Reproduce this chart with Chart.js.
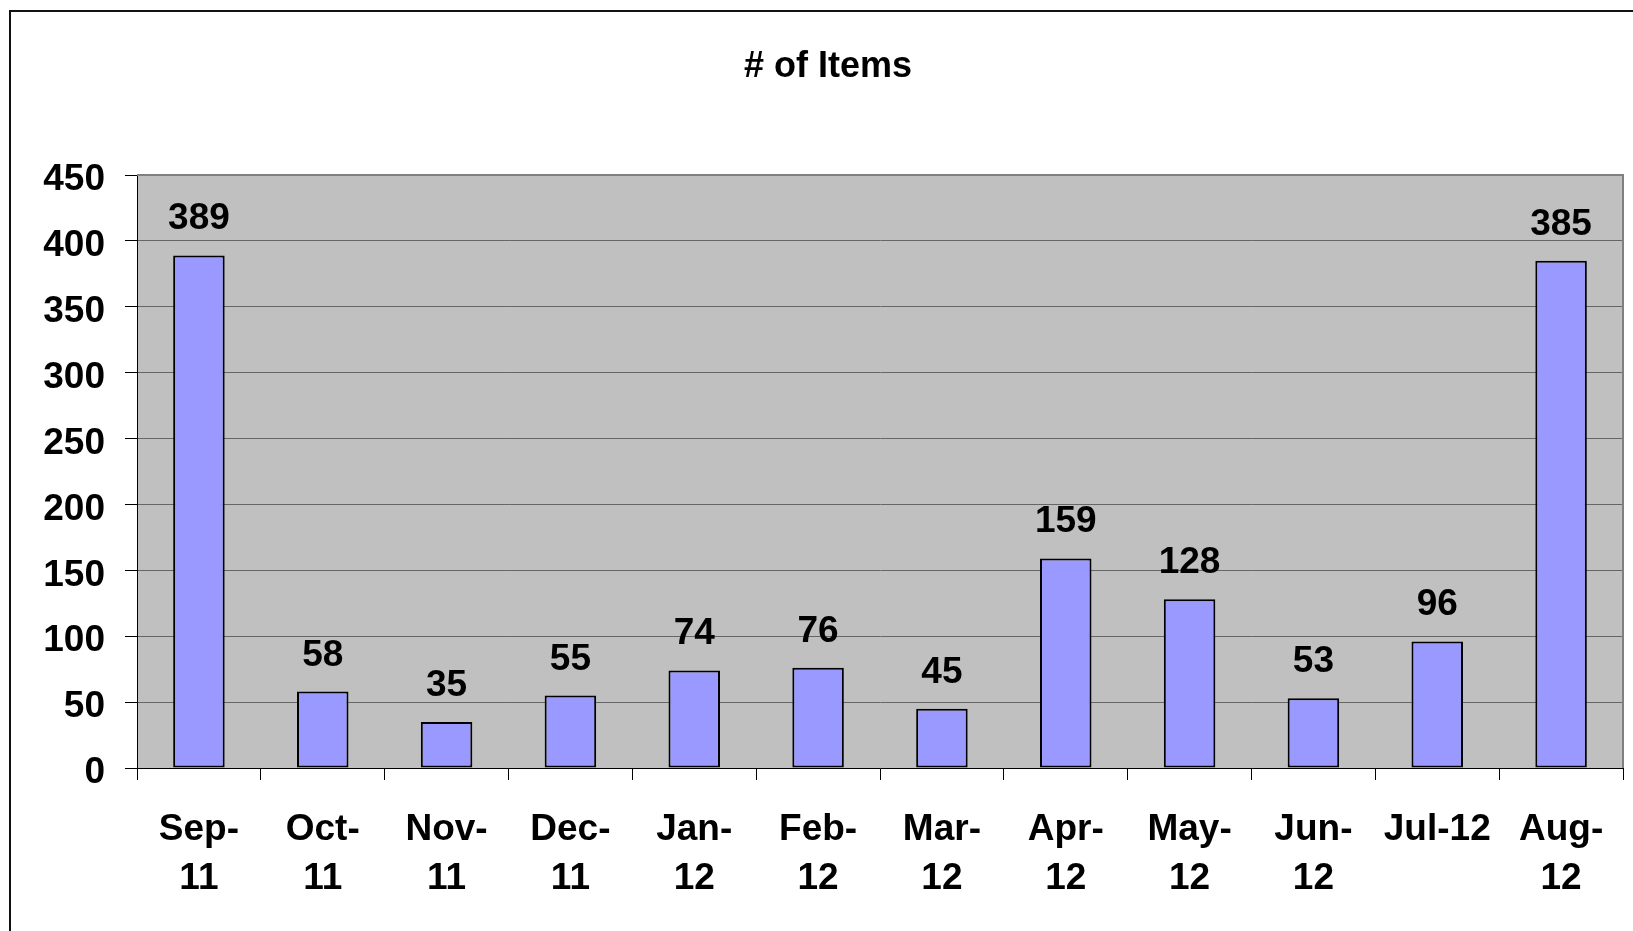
<!DOCTYPE html>
<html>
<head>
<meta charset="utf-8">
<title># of Items</title>
<script src="https://cdn.jsdelivr.net/npm/chart.js@4/dist/chart.umd.min.js"></script>
<style>
  html, body { margin: 0; padding: 0; background: #fff; overflow: hidden; }
  canvas { display: block; }
</style>
</head>
<body>
<canvas id="grafico" width="1633" height="931"></canvas>
<script>
// dados
const meses = ['Sep-11', 'Oct-11', 'Nov-11', 'Dec-11', 'Jan-12', 'Feb-12',
  'Mar-12', 'Apr-12', 'May-12', 'Jun-12', 'Jul-12', 'Aug-12'];
const rotulos = [['Sep-', '11'], ['Oct-', '11'], ['Nov-', '11'], ['Dec-', '11'],
  ['Jan-', '12'], ['Feb-', '12'], ['Mar-', '12'], ['Apr-', '12'], ['May-', '12'],
  ['Jun-', '12'], 'Jul-12', ['Aug-', '12']];
const itens = [389, 58, 35, 55, 74, 76, 45, 159, 128, 53, 96, 385];
const marcasY = [0, 50, 100, 150, 200, 250, 300, 350, 400, 450];
const titulo = '# of Items';

const fonte = "'Liberation Sans', Arial, sans-serif";

// fundo cinza, moldura e título
const moldura = {
  id: 'moldura',
  beforeDraw(chart) {
    const { ctx, chartArea: a } = chart;
    ctx.save();
    ctx.fillStyle = '#fff';
    ctx.fillRect(0, 0, chart.width, chart.height);
    ctx.fillStyle = '#c0c0c0';
    ctx.fillRect(a.left, a.top, a.right - a.left, a.bottom - a.top);
    ctx.strokeStyle = '#111';
    ctx.lineWidth = 2;
    ctx.strokeRect(10, 11, 1650, 960);
    ctx.fillStyle = '#000';
    ctx.font = 'bold 36px ' + fonte;
    ctx.textAlign = 'center';
    ctx.textBaseline = 'middle';
    ctx.fillText(titulo, 828, 67);
    ctx.restore();
  },
  afterDraw(chart) {
    const { ctx, chartArea: a } = chart;
    const y = chart.scales.y;
    ctx.save();
    ctx.strokeStyle = '#808080';
    ctx.lineWidth = 2;
    ctx.beginPath();
    ctx.moveTo(a.left, a.top);
    ctx.lineTo(a.right, a.top);
    ctx.lineTo(a.right, a.bottom);
    ctx.stroke();
    // rótulos do eixo y, um pouco abaixo da marca como no original
    ctx.fillStyle = '#000';
    ctx.font = 'bold 37px ' + fonte;
    ctx.textAlign = 'right';
    ctx.textBaseline = 'middle';
    marcasY.forEach(v => {
      ctx.fillText(String(v), a.left - 32, y.getPixelForValue(v) + 5);
    });
    ctx.restore();
  }
};

// valores acima das barras
const valores = {
  id: 'valores',
  afterDatasetsDraw(chart) {
    const { ctx } = chart;
    const meta = chart.getDatasetMeta(0);
    ctx.save();
    ctx.fillStyle = '#000';
    ctx.font = 'bold 37px ' + fonte;
    ctx.textAlign = 'center';
    ctx.textBaseline = 'alphabetic';
    meta.data.forEach((bar, i) => {
      ctx.fillText(String(itens[i]), bar.x, bar.y - 26);
    });
    ctx.restore();
  }
};

new Chart(document.getElementById('grafico'), {
  type: 'bar',
  data: {
    labels: meses,
    datasets: [{
      label: titulo,
      data: itens,
      backgroundColor: '#9999ff',
      borderColor: '#000',
      borderWidth: 2,
      borderSkipped: false,
      categoryPercentage: 0.8,
      barPercentage: 0.52
    }]
  },
  options: {
    responsive: false,
    animation: false,
    devicePixelRatio: 1,
    layout: { padding: { top: 175, right: 10, bottom: 0, left: 0 } },
    plugins: {
      legend: { display: false },
      title: { display: false },
      tooltip: { enabled: false }
    },
    scales: {
      x: {
        afterFit(scale) { scale.height = 163; },
        grid: {
          offset: true,
          drawOnChartArea: false,
          drawTicks: true,
          tickLength: 12,
          tickColor: '#000',
          tickWidth: 1
        },
        border: { color: '#000', width: 1 },
        ticks: {
          padding: 25,
          maxRotation: 0,
          autoSkip: false,
          color: '#000',
          font: { family: fonte, size: 37, weight: 'bold', lineHeight: 1.33 },
          callback: (v, i) => rotulos[i]
        }
      },
      y: {
        min: 0,
        max: 450,
        afterFit(scale) { scale.width = 137; },
        grid: {
          color: '#666',
          lineWidth: 1,
          tickLength: 12,
          tickColor: '#000'
        },
        border: { color: '#000', width: 1 },
        ticks: {
          stepSize: 50,
          display: false
        }
      }
    }
  },
  plugins: [moldura, valores]
});
</script>
</body>
</html>
